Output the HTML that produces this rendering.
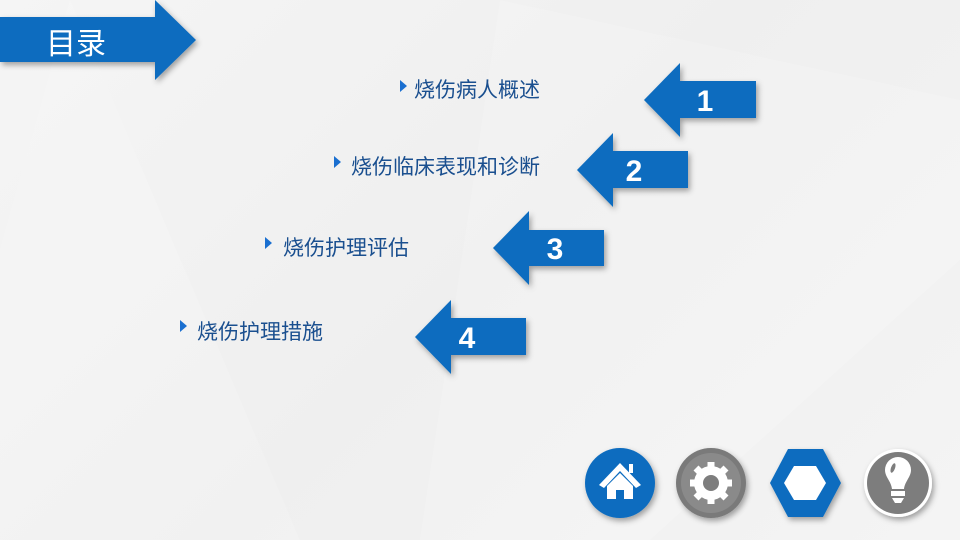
<!DOCTYPE html>
<html><head><meta charset="utf-8"><style>
body{margin:0;width:960px;height:540px;overflow:hidden;background:linear-gradient(135deg,#f5f5f5,#efefef 50%,#f4f4f4);font-family:"Liberation Sans","Noto Sans CJK SC",sans-serif;position:relative}
.t{position:absolute;font-size:21px;color:#1a4f8f;line-height:24px}
.m{position:absolute;width:0;height:0;border-top:6px solid transparent;border-bottom:6px solid transparent;border-left:7px solid #1a6fd0}
</style></head><body>
<svg width="960" height="540" style="position:absolute;left:0;top:0">
<defs><filter id="s" x="-20%" y="-20%" width="150%" height="150%"><feDropShadow dx="2" dy="3" stdDeviation="3" flood-opacity="0.35"/></filter></defs>
<polygon points="70,0 300,540 0,540 0,250" fill="#fff" opacity="0.15"/>
<polygon points="500,0 960,100 960,260 650,540 420,540" fill="#fff" opacity="0.15"/>
<g fill="#0a6cbf" filter="url(#s)">
<polygon points="0,17 155,17 155,0 196,40 155,80 155,62 0,62"/>
<polygon points="644,100 680,63 680,81 756,81 756,118 680,118 680,137"/>
<polygon points="577,170 613,133 613,151 688,151 688,188 613,188 613,207"/>
<polygon points="493,248 529,211 529,230 604,230 604,266 529,266 529,285"/>
<polygon points="415,337 451,300 451,318 526,318 526,355 451,355 451,374"/>
</g>
<g fill="#fff" font-family="Liberation Sans,sans-serif" font-weight="bold" font-size="30" text-anchor="middle">
<text x="705" y="111">1</text><text x="634" y="181">2</text><text x="555" y="259">3</text><text x="467" y="348">4</text>
</g>
<text x="46" y="54" fill="#fff" font-size="30" font-family="Liberation Sans,Noto Sans CJK SC,sans-serif">目录</text>
<g filter="url(#s)">
<circle cx="620" cy="483" r="35" fill="#0a6cbf"/>
<circle cx="711" cy="483" r="35" fill="#7a7a7a"/>
<circle cx="711" cy="483" r="30" fill="#8a8a8a"/>
<polygon points="770,483 788,449 823,449 841,483 823,517 788,517" fill="#0a6cbf"/>
<circle cx="898" cy="483" r="34" fill="#fff"/>
<circle cx="898" cy="483" r="31" fill="#7d7d7d"/>
</g>
<g fill="#fff">
<polygon points="599,485 620,463 641,485 636,488 620,471 604,488"/>
<rect x="629" y="464" width="4" height="9"/>
<polygon points="607,486 620,473 633,486 633,499 624,499 624,490 616,490 616,499 607,499"/>
<circle cx="711" cy="483" r="17"/>
<g stroke="#fff" stroke-width="7"><line x1="711" y1="462" x2="711" y2="504"/><line x1="690" y1="483" x2="732" y2="483"/><line x1="696" y1="468" x2="726" y2="498"/><line x1="726" y1="468" x2="696" y2="498"/></g>
<circle cx="711" cy="483" r="8" fill="#7d7d7d"/>
<polygon points="784,483 794,466 816,466 826,483 816,500 794,500"/>
<path d="M898 457 a13 13 0 0 1 13 13 c0 7 -6 11 -7 19 h-12 c-1 -8 -7 -12 -7 -19 a13 13 0 0 1 13 -13z"/>
<rect x="891" y="491" width="14" height="5"/><path d="M892 498 h12 l-3 5 h-6z"/>
</g>
<ellipse cx="893" cy="468" rx="2" ry="5" fill="#7d7d7d" transform="rotate(20 893 468)"/>
</svg>
<div class="m" style="left:400px;top:80px"></div><div class="t" style="left:414px;top:79px">烧伤病人概述</div>
<div class="m" style="left:334px;top:156px"></div><div class="t" style="left:351px;top:156px">烧伤临床表现和诊断</div>
<div class="m" style="left:265px;top:237px"></div><div class="t" style="left:283px;top:237px">烧伤护理评估</div>
<div class="m" style="left:180px;top:320px"></div><div class="t" style="left:197px;top:321px">烧伤护理措施</div>
</body></html>
